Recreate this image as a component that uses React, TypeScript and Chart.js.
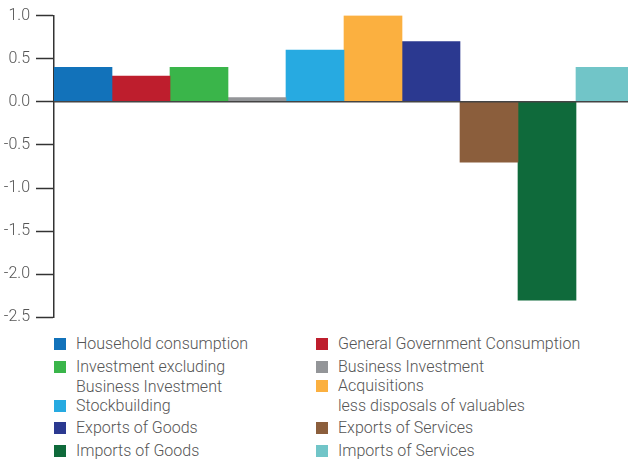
import React, { useEffect, useRef } from "react";
import { Chart, registerables } from "chart.js";

Chart.register(...registerables);

const categories = [
  "Household consumption",
  "General Government Consumption",
  "Investment excluding Business Investment",
  "Business Investment",
  "Stockbuilding",
  "Acquisitions less disposals of valuables",
  "Exports of Goods",
  "Exports of Services",
  "Imports of Goods",
  "Imports of Services",
];
const values = [0.4, 0.3, 0.4, 0.05, 0.6, 1.0, 0.7, -0.7, -2.3, 0.4];
const colors = [
  "#1272ba",
  "#be1e2d",
  "#3ab54a",
  "#939598",
  "#27aae1",
  "#fbb040",
  "#2b3990",
  "#8b5e3c",
  "#0f6a3b",
  "#71c5c8",
];
const yTicks = [1.0, 0.5, 0.0, -0.5, -1.0, -1.5, -2.0, -2.5];

// legend layout: [index, lines]
const legendLeft = [
  { i: 0, lines: ["Household consumption"], top: 338 },
  { i: 2, lines: ["Investment excluding", "Business Investment"], top: 361 },
  { i: 4, lines: ["Stockbuilding"], top: 400 },
  { i: 6, lines: ["Exports of Goods"], top: 422 },
  { i: 8, lines: ["Imports of Goods"], top: 445 },
];
const legendRight = [
  { i: 1, lines: ["General Government Consumption"], top: 338 },
  { i: 3, lines: ["Business Investment"], top: 361 },
  { i: 5, lines: ["Acquisitions", "less disposals of valuables"], top: 380 },
  { i: 7, lines: ["Exports of Services"], top: 422 },
  { i: 9, lines: ["Imports of Services"], top: 445 },
];

const FONT = "Roboto, 'Noto Sans', sans-serif";
const TEXT = "#555555";

export default function App() {
  const ref = useRef<HTMLCanvasElement | null>(null);

  useEffect(() => {
    if (!ref.current) return;
    const zeroLine = {
      id: "zeroLine",
      afterDatasetsDraw(chart: any) {
        const y = chart.scales.y.getPixelForValue(0);
        const { left, right } = chart.chartArea;
        const ctx = chart.ctx;
        ctx.save();
        ctx.strokeStyle = "#444444";
        ctx.lineWidth = 1.5;
        ctx.beginPath();
        ctx.moveTo(left, y);
        ctx.lineTo(right, y);
        ctx.stroke();
        ctx.restore();
      },
    };
    const chart = new Chart(ref.current, {
      type: "bar",
      data: {
        labels: [""],
        datasets: categories.map((c, i) => ({
          label: c,
          data: [values[i]],
          backgroundColor: colors[i],
          borderWidth: 0,
          barPercentage: 1,
          categoryPercentage: 1,
        })),
      },
      options: {
        responsive: false,
        animation: false,
        layout: { padding: { top: 6, right: 0, bottom: 1, left: 0 } },
        plugins: {
          legend: { display: false },
          tooltip: { enabled: false },
        },
        scales: {
          x: { display: false },
          y: {
            min: -2.5,
            max: 1.0,
            afterFit: (s: any) => {
              s.width = 54;
            },
            afterBuildTicks: (s: any) => {
              s.ticks = yTicks.map((v) => ({ value: v }));
            },
            ticks: {
              color: TEXT,
              padding: 6,
              font: { family: FONT, size: 16, weight: "300" },
              callback: (v: any) => Number(v).toFixed(1),
            },
            grid: {
              drawOnChartArea: false,
              drawTicks: true,
              tickLength: 18,
              tickColor: "#333333",
              tickWidth: 1.5,
            },
            border: { display: true, color: "#333333", width: 1.5 },
          },
        },
      },
      plugins: [zeroLine],
    });
    return () => chart.destroy();
  }, []);

  const renderItem = (it: any, x: number) => (
    <div
      key={it.i}
      style={{
        position: "absolute",
        left: x,
        top: it.top,
        display: "flex",
        alignItems: "flex-start",
      }}
    >
      <div
        style={{
          width: 12,
          height: 12,
          background: colors[it.i],
          marginTop: 0,
          flex: "none",
        }}
      />
      <div
        style={{
          marginLeft: 10,
          marginTop: -4,
          fontFamily: FONT,
          fontWeight: 300,
          fontSize: 16,
          lineHeight: "20px",
          color: TEXT,
          whiteSpace: "nowrap",
        }}
      >
        {it.lines.map((l: string, k: number) => (
          <div key={k}>{l}</div>
        ))}
      </div>
    </div>
  );

  return (
    <div
      style={{
        position: "absolute",
        left: 0,
        top: 0,
        width: 628,
        height: 459,
        overflow: "hidden",
        background: "#ffffff",
      }}
    >
      <canvas
        ref={ref}
        width={634}
        height={333}
        style={{ position: "absolute", left: 0, top: 0, width: 634, height: 333 }}
      />
      {legendLeft.map((it) => renderItem(it, 54))}
      {legendRight.map((it) => renderItem(it, 316))}
    </div>
  );
}
